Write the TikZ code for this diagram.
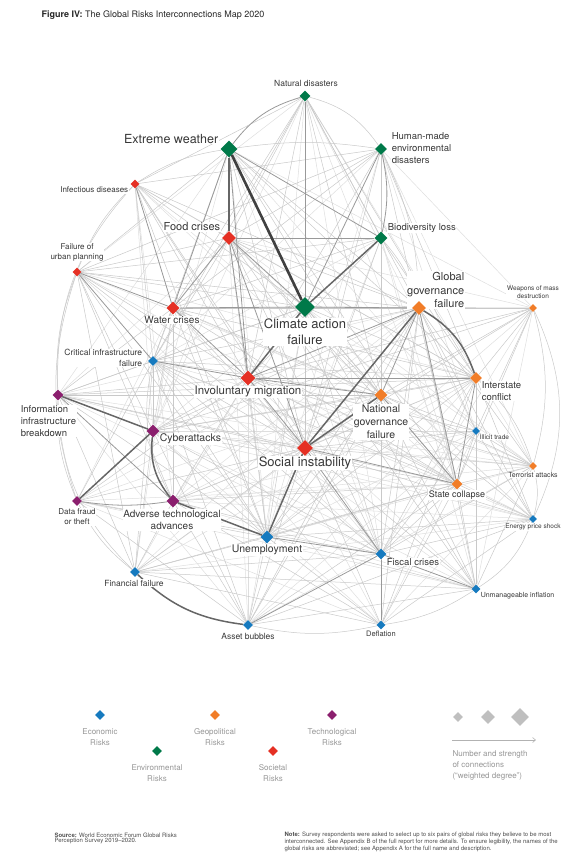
\documentclass[tikz,border=0pt]{standalone}
\usepackage{fontspec}
\setmainfont{TeX Gyre Heros}
\usetikzlibrary{shapes.geometric,backgrounds,arrows.meta}

\definecolor{ecorisk}{RGB}{22,122,191}
\definecolor{envrisk}{RGB}{0,121,73}
\definecolor{georisk}{RGB}{241,125,40}
\definecolor{socrisk}{RGB}{229,48,36}
\definecolor{techrisk}{RGB}{139,31,110}
\definecolor{labtext}{RGB}{55,55,55}
\definecolor{keytext}{RGB}{150,150,150}

\newcommand{\lsize}[1]{\fontsize{#1}{\fpeval{1.25*#1}}\selectfont}

\begin{document}
\begin{tikzpicture}[x=1pt,y=-1pt,
  every node/.style={text=labtext},
  risk/.style={diamond,inner sep=0pt,minimum size=#1},
  lab/.style={fill=white,inner sep=0.6pt,align=center,font=\lsize{#1}},
  faint/.style={draw=black!13,line width=0.5pt},
  light/.style={draw=black!21,line width=0.5pt},
  mid/.style={draw=black!40,line width=0.8pt},
  strong/.style={draw=black!60,line width=1.5pt},
  heavy/.style={draw=black!75,line width=2.6pt},
  key/.style={text=keytext,align=center,font=\fontsize{8}{11}\selectfont},
  foot/.style={anchor=north west,align=left,text=black!70,font=\fontsize{6}{5.6}\selectfont}]
\useasboundingbox (0,0) rectangle (582,866);

\node[anchor=west,font=\lsize{9},text=black!85] (title) at (38,15) {\textbf{Figure IV:} The Global Risks Interconnections Map 2020};

% Labels
\node[lab=8.5] (l-nd) at (306,83) {Natural disasters};
\node[lab=12.5,anchor=east] (l-ew) at (219,139) {Extreme weather};
\node[lab=9.5,anchor=west,align=left] (l-hm) at (391,148) {Human-made\\environmental\\disasters};
\node[lab=8,anchor=east] (l-inf) at (129,190) {Infectious diseases};
\node[lab=11,anchor=east] (l-food) at (221,227) {Food crises};
\node[lab=9.5,anchor=west] (l-bio) at (387,228) {Biodiversity loss};
\node[lab=8] (l-urb) at (77,252) {Failure of\\urban planning};
\node[lab=10] (l-water) at (172,320) {Water crises};
\node[lab=13] (l-clim) at (305,332) {Climate action\\failure};
\node[lab=11,anchor=east,align=right] (l-gg) at (465,290) {Global\\governance\\failure};
\node[lab=6.5] (l-wmd) at (533,292) {Weapons of mass\\destruction};
\node[lab=8.5,anchor=east,align=right] (l-cif) at (143,358) {Critical infrastructure\\failure};
\node[lab=11.5] (l-mig) at (248,392) {Involuntary migration};
\node[lab=9.5,anchor=west,align=left] (l-iib) at (20,421) {Information\\infrastructure\\breakdown};
\node[lab=9.5,anchor=west,align=left] (l-isc) at (481,391) {Interstate\\conflict};
\node[lab=10.5] (l-ngf) at (381,422) {National\\governance\\failure};
\node[lab=10.5,anchor=west] (l-cyb) at (159,439) {Cyberattacks};
\node[lab=6.5,anchor=west] (l-ill) at (479,437) {Illicit trade};
\node[lab=13] (l-soc) at (305,463) {Social instability};
\node[lab=7] (l-terr) at (533,475) {Terrorist attacks};
\node[lab=9] (l-state) at (457,495) {State collapse};
\node[lab=8] (l-dft) at (77,517) {Data fraud\\or theft};
\node[lab=10] (l-adv) at (172,520) {Adverse technological\\advances};
\node[lab=6.5] (l-eps) at (533,527) {Energy price shock};
\node[lab=10.5] (l-unemp) at (267,550) {Unemployment};
\node[lab=9.5,anchor=west] (l-fisc) at (386,562) {Fiscal crises};
\node[lab=8.5] (l-fin) at (134,583) {Financial failure};
\node[lab=7,anchor=west] (l-infl) at (480,596) {Unmanageable inflation};
\node[lab=8.5] (l-asset) at (248,636) {Asset bubbles};
\node[lab=7.5] (l-defl) at (381,634) {Deflation};

% Risks
\foreach \n/\x/\y/\s/\c in {nd/305/96/11/envrisk, ew/229/149/17/envrisk, hm/381/149/12/envrisk,
    inf/135/184/9/socrisk, food/229/238/14/socrisk, bio/381/238/13/envrisk,
    urb/77/272/9/socrisk, water/173/308/13/socrisk, clim/305/307/20/envrisk,
    gg/419/308/14/georisk, wmd/533/308/8/georisk, cif/153/361/10/ecorisk,
    mig/248/378/15/socrisk, iib/58/395/11/techrisk, isc/476/378/12/georisk,
    ngf/381/395/13/georisk, cyb/153/431/13/techrisk, ill/476/431/8/ecorisk,
    soc/305/448/16/socrisk, terr/533/466/8/georisk, state/457/484/11/georisk,
    dft/77/501/10/techrisk, adv/173/501/13/techrisk, eps/533/519/8/ecorisk,
    unemp/267/537/13/ecorisk, fisc/381/554/11/ecorisk, fin/135/572/10/ecorisk,
    infl/476/589/9/ecorisk, asset/248/625/10/ecorisk, defl/381/625/9/ecorisk}
  \node[risk=\s,fill=\c] (\n) at (\x,\y) {};

% Connections
\begin{scope}[on background layer]
\foreach \a/\b in {nd/urb, nd/ill, nd/state, nd/unemp, nd/fisc, nd/cyb, nd/terr,
    ew/wmd, ew/ill, ew/fisc, ew/unemp, ew/iib, ew/cyb, hm/wmd, hm/cif, hm/fisc, hm/ill, hm/terr, hm/unemp,
    inf/isc, inf/ngf, inf/state, inf/cyb, inf/adv, food/wmd, food/iib, food/cyb, food/terr, food/asset, food/eps,
    bio/cif, bio/state, bio/unemp, bio/defl, bio/infl, urb/ngf, urb/isc, urb/state, urb/fisc,
    water/fisc, water/fin, water/terr, water/dft, clim/terr, clim/eps, clim/cyb, clim/adv, clim/asset,
    gg/iib, gg/adv, gg/fin, gg/dft, wmd/fisc, wmd/infl, wmd/unemp, cif/terr, cif/defl, cif/infl, cif/eps,
    mig/eps, mig/infl, mig/asset, mig/fin, mig/defl, iib/fisc, iib/asset, iib/terr, iib/eps,
    isc/fin, isc/asset, isc/adv, ngf/adv, ngf/fin, ngf/dft, cyb/ill, cyb/terr, cyb/defl, cyb/infl, cyb/eps,
    ill/unemp, ill/defl, ill/asset, ill/adv, terr/unemp, terr/defl, terr/adv, terr/asset,
    state/dft, dft/defl, dft/infl, adv/infl, adv/eps, eps/fin}
  \draw[faint] (\a) -- (\b);
\foreach \a/\b in {nd/food, nd/bio, nd/water, nd/mig, nd/gg, nd/soc, nd/inf, nd/cif, nd/ngf, nd/isc,
    ew/gg, ew/soc, ew/urb, ew/cif, ew/isc, ew/ngf, ew/state,
    hm/food, hm/water, hm/mig, hm/inf, hm/soc, hm/ngf, hm/urb, hm/state, hm/isc,
    inf/food, inf/clim, inf/mig, inf/soc, inf/gg, inf/unemp, inf/cif, inf/fisc,
    food/gg, food/isc, food/ngf, food/state, food/unemp, food/fisc, food/urb, food/cif, food/infl,
    bio/water, bio/mig, bio/soc, bio/ngf, bio/urb, bio/fisc, bio/isc,
    urb/mig, urb/soc, urb/clim, urb/cyb, urb/adv, urb/unemp, urb/fin, urb/gg,
    water/soc, water/gg, water/cif, water/isc, water/ngf, water/state, water/unemp, water/adv, water/iib, water/cyb,
    clim/soc, clim/ngf, clim/isc, clim/state, clim/cif, clim/unemp, clim/fisc, clim/iib, clim/wmd, clim/infl,
    gg/wmd, gg/terr, gg/ill, gg/fisc, gg/unemp, gg/defl, gg/cyb, gg/cif, gg/infl, gg/eps, gg/asset,
    wmd/isc, wmd/state, wmd/ngf, wmd/soc, wmd/mig, wmd/ill, wmd/cyb,
    cif/iib, cif/cyb, cif/soc, cif/unemp, cif/fisc, cif/fin, cif/isc, cif/dft, cif/state, cif/asset, cif/ngf,
    mig/cyb, mig/state, mig/unemp, mig/fisc, mig/terr, mig/ill, mig/iib, mig/adv, mig/dft,
    iib/soc, iib/fin, iib/unemp, iib/isc, iib/ngf, iib/state,
    isc/ngf, isc/ill, isc/soc, isc/fisc, isc/infl, isc/eps, isc/defl, isc/cyb, isc/unemp,
    ngf/fisc, ngf/unemp, ngf/terr, ngf/ill, ngf/infl, ngf/asset, ngf/defl, ngf/eps, ngf/cyb,
    cyb/soc, cyb/unemp, cyb/fin, cyb/state, cyb/asset, cyb/fisc,
    ill/state, ill/terr, ill/soc, ill/fisc, ill/infl, ill/eps,
    soc/terr, soc/adv, soc/fin, soc/asset, soc/defl, soc/infl, soc/eps, soc/dft,
    terr/state, terr/infl, terr/fisc,
    state/fisc, state/unemp, state/eps, state/infl, state/defl, state/adv, state/asset, state/fin,
    dft/unemp, dft/asset, dft/fisc, adv/fisc, adv/fin, adv/asset, adv/defl,
    eps/fisc, eps/unemp, eps/defl, eps/asset, unemp/asset, unemp/defl, unemp/fin, unemp/infl,
    fisc/fin, fin/defl, fin/infl, infl/asset}
  \draw[light] (\a) -- (\b);
% outer arcs
\foreach \a/\b/\k in {nd/hm/20, ew/hm/8, inf/ew/12, urb/inf/12, iib/urb/12, dft/iib/12, fin/dft/12,
    defl/asset/12, infl/defl/12, eps/infl/18, terr/eps/15, wmd/terr/15, wmd/eps/25, hm/gg/12,
    isc/terr/15, iib/inf/22, dft/urb/18, fin/iib/22, bio/gg/12, cif/adv/-20}
  \draw[light] (\a) to[bend left=\k] (\b);
\foreach \a/\b in {food/water, water/clim, clim/gg, food/bio, food/clim, food/mig, ew/water, ew/bio,
    urb/cif, urb/water, soc/mig, mig/isc, unemp/fisc, fisc/asset, ngf/state, soc/state, iib/adv,
    hm/clim, nd/clim, gg/ngf, isc/state, water/mig, inf/water, soc/fisc, gg/state, ew/mig,
    food/soc, gg/mig, defl/fisc, infl/fisc, ngf/mig, cif/mig}
  \draw[mid] (\a) -- (\b);
\foreach \a/\b/\k in {ew/nd/18, hm/bio/12, adv/dft/8}
  \draw[mid] (\a) to[bend left=\k] (\b);
\foreach \a/\b in {bio/clim, iib/cyb, cyb/dft, adv/unemp, soc/unemp, soc/ngf, mig/clim, ew/food, soc/gg}
  \draw[strong] (\a) -- (\b);
\foreach \a/\b/\k in {gg/isc/20, asset/fin/18, adv/cyb/22}
  \draw[strong] (\a) to[bend left=\k] (\b);
\draw[heavy] (ew) -- (clim);
\end{scope}

% Legend
\foreach \n/\x/\y/\c in {eco/100/715/ecorisk, env/157/751/envrisk, geo/215/715/georisk,
    soc/273/751/socrisk, tech/332/715/techrisk}
  \node[risk=10,fill=\c] (k-\n) at (\x,\y) {};
\node[key] (kl-eco) at (100,737) {Economic\\Risks};
\node[key] (kl-env) at (157,773) {Environmental\\Risks};
\node[key] (kl-geo) at (215,737) {Geopolitical\\Risks};
\node[key] (kl-soc) at (273,773) {Societal\\Risks};
\node[key] (kl-tech) at (332,737) {Technological\\Risks};
\node[risk=10,fill=black!25] (k-s1) at (458,717) {};
\node[risk=14,fill=black!25] (k-s2) at (488,717) {};
\node[risk=18,fill=black!25] (k-s3) at (520,717) {};
\coordinate (k-a) at (452,740);
\coordinate (k-b) at (536,740);
\draw[black!30,line width=0.6pt,-{Straight Barb[length=3pt,width=5pt]}] (k-a) -- (k-b);
\node[key,anchor=north west,align=left] (kl-deg) at (449,747) {Number and strength\\of connections\\(``weighted degree'')};

% Footer
\node[foot] (src) at (51,829)
  {\textbf{Source:} World Economic Forum Global Risks\\Perception Survey 2019--2020.};
\node[foot] (note) at (281,828.5)
  {\textbf{Note:} Survey respondents were asked to select up to six pairs of global risks they believe to be most\\interconnected. See Appendix B of the full report for more details. To ensure legibility, the names of the\\global risks are abbreviated; see Appendix A for the full name and description.};
\end{tikzpicture}
\end{document}
